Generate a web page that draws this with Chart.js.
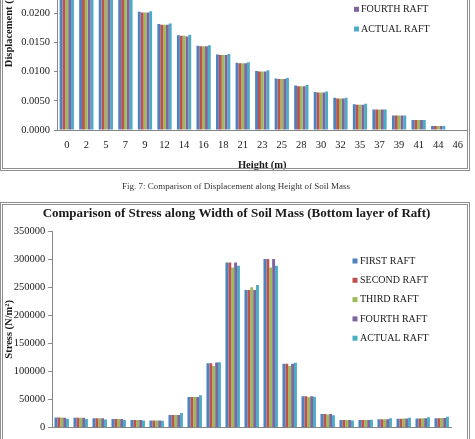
<!DOCTYPE html>
<html>
<head>
<meta charset="utf-8">
<script src="https://cdn.jsdelivr.net/npm/chart.js@4.4.0/dist/chart.umd.min.js"></script>
<style>
  html, body { margin: 0; padding: 0; background: #ffffff; }
  body { width: 475px; height: 439px; position: relative; overflow: hidden; }
  canvas { position: absolute; }
  .frame { position: absolute; border: 3px double #8f8f8f; box-sizing: border-box; pointer-events: none; }
  #caption { position: absolute; left: 0; width: 472px; top: 180px; text-align: center;
             font-family: "Liberation Serif", serif; font-size: 9px; color: #333; line-height: 12px; }
</style>
</head>
<body>
<canvas id="dispChart" width="465" height="300" style="left:3px; top:-117px;"></canvas>
<div class="frame" style="left:0; top:-20px; width:470px; height:191px;"></div>
<div id="caption">Fig. 7: Comparison of Displacement along Height of Soil Mass</div>
<canvas id="stressChart" width="464" height="300" style="left:3px; top:206px;"></canvas>
<div class="frame" style="left:0; top:202px; width:470px; height:260px;"></div>
<script>
// ---------- data ----------
const seriesNames = ['FIRST RAFT', 'SECOND RAFT', 'THIRD RAFT', 'FOURTH RAFT', 'ACTUAL RAFT'];
const seriesColors = ['#4F81BD', '#C0504D', '#9BBB59', '#8064A2', '#4BACC6'];

// Fig. 7 – displacement along height (x categories: height in m)
const heightLabels = ['0','2','5','7','9','12','14','16','18','21','23','25','28','30','32','35','37','39','41','44','46'];
const dispFirst  = [0.0275,0.0260,0.0243,0.0224,0.0202,0.0181,0.0162,0.0144,0.0129,0.0115,0.0101,0.0088,0.0076,0.0065,0.0055,0.0044,0.0035,0.0025,0.0017,0.0007,0];
const dispSecond = [0.0274,0.0259,0.0242,0.0223,0.0201,0.0180,0.0161,0.0143,0.0128,0.0114,0.0100,0.0087,0.0075,0.0064,0.0054,0.0043,0.0035,0.0025,0.0017,0.0007,0];
const dispThird  = [0.0274,0.0259,0.0242,0.0223,0.0201,0.0180,0.0161,0.0143,0.0128,0.0114,0.0100,0.0087,0.0075,0.0064,0.0054,0.0043,0.0035,0.0025,0.0017,0.0007,0];
const dispFourth = [0.0274,0.0259,0.0242,0.0223,0.0201,0.0180,0.0160,0.0143,0.0128,0.0114,0.0100,0.0087,0.0075,0.0064,0.0054,0.0043,0.0035,0.0025,0.0017,0.0007,0];
const dispActual = [0.0276,0.0261,0.0244,0.0225,0.0203,0.0182,0.0163,0.0145,0.0130,0.0116,0.0102,0.0089,0.0077,0.0066,0.0055,0.0045,0.0035,0.0025,0.0017,0.0007,0];

// Stress along width (bottom layer of raft)
const widthLabels = ['0','2','5','7','9','12','14','16','18','21','23','25','28','30','32','35','37','39','41','44','46'];
const stressFirst  = [18000,17800,17000,15500,13700,13000,22600,54600,114600,294000,245000,300000,114000,56000,24500,13500,13500,15000,16000,16500,17000];
const stressSecond = [18000,17800,17000,15500,13700,13000,22600,54600,114600,294000,245000,300000,114000,56000,24500,13500,13500,15000,16000,16500,17000];
const stressThird  = [18000,17800,17000,15500,13700,13000,22600,54600,110000,285000,250000,285000,110000,54000,23500,13500,13500,15200,16200,16800,17200];
const stressFourth = [17800,17600,16800,15500,13700,13000,22600,54600,116000,294000,245000,300000,114000,56000,24500,13500,13500,15200,16200,16800,17200];
const stressActual = [15800,15500,14500,13700,12600,12500,26000,57600,116600,288000,254000,288000,115700,55200,22000,13000,14300,16700,17800,18400,19500];

const dispTicks = { min: 0, max: 0.035, step: 0.005 };
const stressTicks = { min: 0, max: 350000, step: 50000 };

// ---------- helpers ----------
const FONT = '"Liberation Serif", "Times New Roman", serif';
const TEXT = '#1a1a1a';
const AXIS = '#868686';
const NONE = 'rgba(0,0,0,0)';

function makeDatasets(arrs, catPct) {
  return arrs.map((d, i) => ({
    label: seriesNames[i],
    data: d,
    backgroundColor: seriesColors[i],
    borderWidth: 0,
    categoryPercentage: catPct,
    barPercentage: 1.0
  }));
}

const boxLegend = {
  id: 'boxLegend',
  afterDraw(chart, args, o) {
    const ctx = chart.ctx;
    ctx.save();
    ctx.font = o.font;
    ctx.textBaseline = 'middle';
    ctx.textAlign = 'left';
    chart.data.datasets.forEach((ds, i) => {
      const y = o.y + i * o.spacing;
      ctx.fillStyle = ds.backgroundColor;
      ctx.fillRect(o.boxX, y - o.box / 2, o.box, o.box);
      ctx.fillStyle = o.color;
      ctx.fillText(ds.label, o.textX, y);
    });
    ctx.restore();
  }
};

const centerTitle = {
  id: 'centerTitle',
  afterDraw(chart, args, o) {
    if (!o.text) return;
    const ctx = chart.ctx;
    ctx.save();
    ctx.font = o.font;
    ctx.fillStyle = o.color;
    ctx.textAlign = 'center';
    ctx.textBaseline = 'middle';
    ctx.fillText(o.text, o.x, o.y);
    ctx.restore();
  }
};

Chart.defaults.font.family = FONT;
Chart.defaults.color = TEXT;

// ---------- displacement chart ----------
new Chart(document.getElementById('dispChart'), {
  type: 'bar',
  data: {
    labels: heightLabels,
    datasets: makeDatasets([dispFirst, dispSecond, dispThird, dispFourth, dispActual], 0.73)
  },
  plugins: [boxLegend],
  options: {
    responsive: false,
    animation: false,
    devicePixelRatio: 1,
    layout: { padding: { top: 42.25, left: 0, right: 0.5, bottom: 0 } },
    plugins: {
      legend: { display: false },
      title: { display: false },
      tooltip: { enabled: false },
      boxLegend: { font: '10px ' + FONT, color: TEXT, y: 67.2, spacing: 19.7, box: 5, boxX: 351, textX: 358 }
    },
    scales: {
      x: {
        grid: { display: true, drawOnChartArea: false, drawTicks: true, tickLength: 9, color: NONE },
        border: { display: true, color: AXIS, width: 1 },
        ticks: { font: { size: 10.5 }, color: TEXT, padding: 0, autoSkip: false, maxRotation: 0 },
        title: { display: true, text: 'Height (m)', font: { size: 10.5, weight: 'bold' }, color: TEXT, padding: { top: 0, bottom: 11 } },
        afterFit(s) { s.height = 53; }
      },
      y: {
        min: dispTicks.min, max: dispTicks.max,
        grid: { display: true, drawOnChartArea: false, drawTicks: true, tickLength: 3, color: AXIS },
        border: { display: true, color: AXIS, width: 1 },
        ticks: { stepSize: dispTicks.step, font: { size: 10.5 }, color: TEXT, padding: 4,
                 callback: v => Number(v).toFixed(4) },
        title: { display: true, text: 'Displacement (m)', font: { size: 10.5, weight: 'bold' }, color: TEXT, padding: { top: 0, bottom: 0 } },
        afterFit(s) { s.width = 54; }
      }
    }
  }
});

// ---------- stress chart ----------
new Chart(document.getElementById('stressChart'), {
  type: 'bar',
  data: {
    labels: widthLabels,
    datasets: makeDatasets([stressFirst, stressSecond, stressThird, stressFourth, stressActual], 0.76)
  },
  plugins: [boxLegend, centerTitle],
  options: {
    responsive: false,
    animation: false,
    devicePixelRatio: 1,
    layout: { padding: { top: 25, left: 0, right: 15.8, bottom: 0 } },
    plugins: {
      legend: { display: false },
      tooltip: { enabled: false },
      title: { display: false },
      centerTitle: {
        text: 'Comparison of Stress along Width of Soil Mass (Bottom layer of Raft)',
        font: 'bold 13px ' + FONT, color: TEXT, x: 233.5, y: 7.5
      },
      boxLegend: { font: '10px ' + FONT, color: TEXT, y: 55, spacing: 19.3, box: 5, boxX: 349.5, textX: 357 }
    },
    scales: {
      x: {
        grid: { display: true, drawOnChartArea: false, drawTicks: true, tickLength: 9, color: NONE },
        border: { display: true, color: AXIS, width: 1 },
        ticks: { font: { size: 10.5 }, color: TEXT, padding: 0, autoSkip: false, maxRotation: 0 },
        afterFit(s) { s.height = 78.3; }
      },
      y: {
        min: stressTicks.min, max: stressTicks.max,
        grid: { display: true, drawOnChartArea: false, drawTicks: true, tickLength: 4, color: AXIS },
        border: { display: true, color: AXIS, width: 1 },
        ticks: { stepSize: stressTicks.step, font: { size: 10.5 }, color: TEXT, padding: 3,
                 callback: v => String(v) },
        title: { display: true, text: 'Stress (N/m²)', font: { size: 10.5, weight: 'bold' }, color: TEXT, padding: { top: 0, bottom: 0 } },
        afterFit(s) { s.width = 49.2; }
      }
    }
  }
});
</script>
</body>
</html>
